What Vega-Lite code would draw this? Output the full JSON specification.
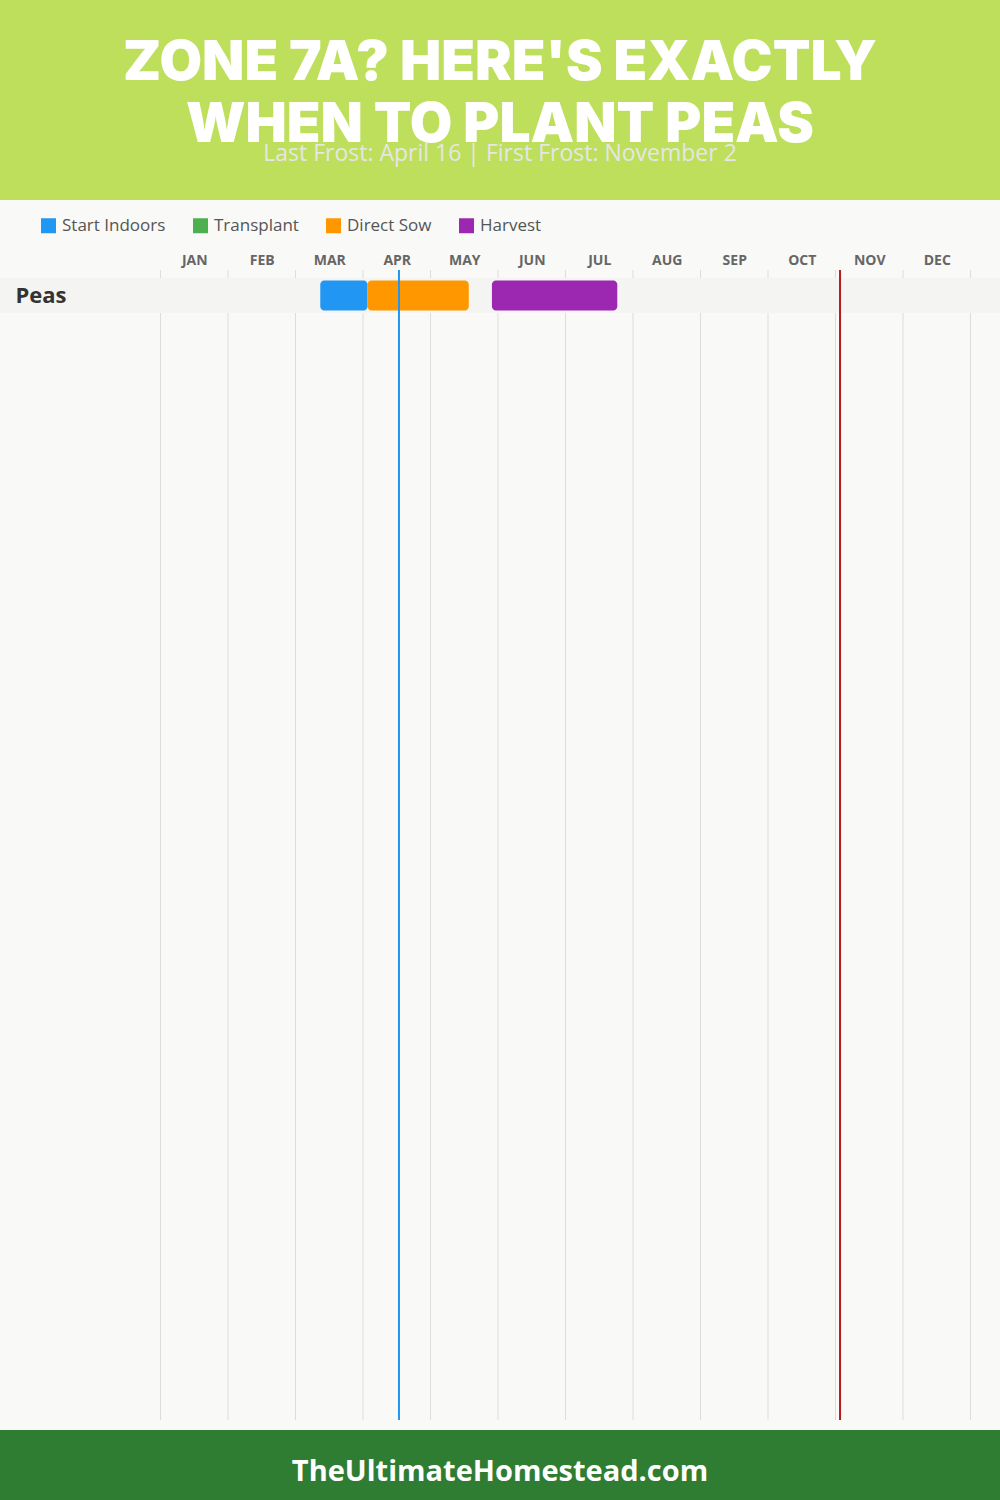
{
  "$schema": "https://vega.github.io/schema/vega-lite/v6.json",
  "padding": 0,
  "background": "#f9f9f7",
  "spacing": 0,
  "bounds": "flush",
  "config": {"view": {"stroke": null}},
  "datasets": {
    "months": [{"boundary": 0}, {"boundary": 1}, {"boundary": 2}, {"boundary": 3}, {"boundary": 4}, {"boundary": 5}, {"boundary": 6}, {"boundary": 7}, {"boundary": 8}, {"boundary": 9}, {"boundary": 10}, {"boundary": 11}, {"boundary": 12}],
    "crops": [{"crop": "Peas"}],
    "tasks": [
      {"crop": "Peas", "task": "Start Indoors", "start": 2.367, "end": 3.067},
      {"crop": "Peas", "task": "Direct Sow", "start": 3.067, "end": 4.567},
      {"crop": "Peas", "task": "Harvest", "start": 4.91, "end": 6.767}
    ],
    "lastFrost": [{"event": "Last Frost", "month": 3.533}],
    "firstFrost": [{"event": "First Frost", "month": 10.067}]
  },
  "vconcat": [
    {
      "width": 1000,
      "height": 200,
      "view": {"fill": "#bedf5c", "stroke": null},
      "title": {
        "text": ["ZONE 7A? HERE'S EXACTLY", "WHEN TO PLANT PEAS"],
        "subtitle": "Last Frost: April 16 | First Frost: November 2",
        "orient": "top",
        "anchor": "middle",
        "frame": "group",
        "offset": -167,
        "font": "Inter",
        "fontWeight": 900,
        "fontSize": 55,
        "lineHeight": 62,
        "color": "#ffffff",
        "subtitleFont": "Open Sans",
        "subtitleFontSize": 23,
        "subtitleFontWeight": 400,
        "subtitleColor": "#e6e6e6",
        "subtitlePadding": -11
      },
      "data": {"values": [{"k": 1}]},
      "mark": {"type": "rect", "opacity": 0},
      "encoding": {}
    },
    {
      "width": 1000,
      "height": 70,
      "data": {"values": [{"k": 1}]},
      "mark": {"type": "rect", "opacity": 0},
      "encoding": {}
    },
    {
      "width": 1000,
      "height": 1150,
      "layer": [
        {
          "data": {"name": "months"},
          "mark": {"type": "rule", "color": "#dddddd", "strokeWidth": 1},
          "encoding": {
            "x": {
              "field": "boundary",
              "type": "quantitative",
              "scale": {"domain": [-2.3778, 12.437], "nice": false, "zero": false},
              "axis": {
                "orient": "top",
                "values": [0.5, 1.5, 2.5, 3.5, 4.5, 5.5, 6.5, 7.5, 8.5, 9.5, 10.5, 11.5],
                "labelExpr": "['JAN','FEB','MAR','APR','MAY','JUN','JUL','AUG','SEP','OCT','NOV','DEC'][floor(datum.value)]",
                "labelFont": "Open Sans",
                "labelFontWeight": "bold",
                "labelFontSize": 14,
                "labelColor": "#666666",
                "labelPadding": 6,
                "labelBaseline": "alphabetic",
                "labelFlush": false,
                "labelOverlap": false,
                "domain": false,
                "ticks": false,
                "tickSize": 0,
                "grid": false,
                "title": null
              }
            }
          }
        },
        {
          "data": {"name": "crops"},
          "mark": {"type": "rect", "color": "#f4f4f2"},
          "encoding": {
            "y": {
              "field": "crop",
              "type": "nominal",
              "scale": {"range": [8, 43], "paddingInner": 0, "paddingOuter": 0},
              "axis": {
                "orient": "left",
                "labelAlign": "left",
                "labelBaseline": "middle",
                "labelPadding": -15,
                "labelFont": "Open Sans",
                "labelFontWeight": "bold",
                "labelFontSize": 22,
                "labelColor": "#333333",
                "ticks": false,
                "tickSize": 0,
                "domain": false,
                "grid": false,
                "title": null
              }
            }
          }
        },
        {
          "data": {"name": "tasks"},
          "mark": {"type": "bar", "cornerRadius": 4, "height": {"band": 0.857}},
          "encoding": {
            "y": {"field": "crop", "type": "nominal"},
            "x": {"field": "start", "type": "quantitative", "scale": {"domain": [-2.3778, 12.437], "nice": false, "zero": false}},
            "x2": {"field": "end"},
            "color": {
              "field": "task",
              "type": "nominal",
              "scale": {
                "domain": ["Start Indoors", "Transplant", "Direct Sow", "Harvest"],
                "range": ["#2196f3", "#4caf50", "#ff9800", "#9c27b0"]
              },
              "legend": {
                "orient": "none",
                "legendX": 40,
                "legendY": 217,
                "direction": "horizontal",
                "title": null,
                "padding": 0,
                "symbolType": "square",
                "symbolSize": 225,
                "symbolStrokeWidth": 0,
                "labelFont": "Open Sans",
                "labelFontSize": 17,
                "labelColor": "#555555",
                "labelOffset": 5,
                "columnPadding": 26
              }
            }
          }
        },
        {
          "data": {"name": "lastFrost"},
          "mark": {"type": "rule", "color": "#2196f3", "strokeWidth": 2},
          "encoding": {
            "x": {"field": "month", "type": "quantitative", "scale": {"domain": [-2.3778, 12.437], "nice": false, "zero": false}}
          }
        },
        {
          "data": {"name": "firstFrost"},
          "mark": {"type": "rule", "color": "#b71c1c", "strokeWidth": 2},
          "encoding": {
            "x": {"field": "month", "type": "quantitative", "scale": {"domain": [-2.3778, 12.437], "nice": false, "zero": false}}
          }
        }
      ]
    },
    {
      "width": 1000,
      "height": 10,
      "data": {"values": [{"k": 1}]},
      "mark": {"type": "rect", "opacity": 0},
      "encoding": {}
    },
    {
      "width": 1000,
      "height": 70,
      "view": {"fill": "#2e7d32", "stroke": null},
      "title": {
        "text": "TheUltimateHomestead.com",
        "orient": "top",
        "anchor": "middle",
        "frame": "group",
        "offset": -57,
        "font": "Open Sans",
        "fontWeight": "bold",
        "fontSize": 29,
        "color": "#ffffff"
      },
      "data": {"values": [{"k": 1}]},
      "mark": {"type": "rect", "opacity": 0},
      "encoding": {}
    }
  ]
}
